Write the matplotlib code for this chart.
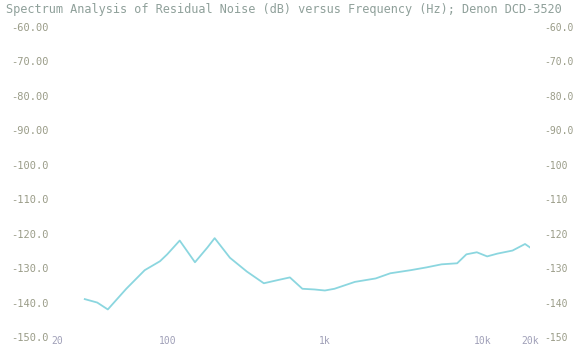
import matplotlib.pyplot as plt
from matplotlib.ticker import FixedLocator, NullLocator

# Residual noise spectrum
freq = [30, 36, 42, 55, 72, 90, 100, 120, 150, 180, 200, 250, 320, 410, 500,
        600, 720, 860, 1000, 1150, 1550, 2100, 2600, 3500, 4400, 5500, 6900,
        7900, 9200, 10700, 12400, 15500, 18600, 20000]
noise_db = [-139, -140, -142, -136, -130.6, -128, -126, -122, -128.3, -124,
            -121.3, -127, -131, -134.4, -133.5, -132.7, -136, -136.2, -136.5,
            -136, -134, -133, -131.5, -130.6, -129.8, -128.9, -128.6, -126,
            -125.4, -126.6, -125.8, -124.9, -123, -124]

y_ticks = [-60, -70, -80, -90, -100, -110, -120, -130, -140, -150]
left_labels = ["-60.00", "-70.00", "-80.00", "-90.00", "-100.0", "-110.0",
               "-120.0", "-130.0", "-140.0", "-150.0"]
right_labels = ["-60.0", "-70.0", "-80.0", "-90.0", "-100", "-110", "-120",
                "-130", "-140", "-150"]
x_ticks = [20, 100, 1000, 10000, 20000]
x_labels = ["20", "100", "1k", "10k", "20k"]

txt = "#9a9c88"
mono = "DejaVu Sans Mono"

fig = plt.figure(figsize=(5.79, 3.47), dpi=100)
ax = fig.add_axes([57 / 579, 1 - 337 / 347, (530 - 57) / 579, 310 / 347])

ax.plot(freq, noise_db, color="#7fd2dc", lw=1.3, alpha=0.9)

ax.set_xscale("log")
ax.set_xlim(20, 20000)
ax.set_ylim(-150, -60)
ax.xaxis.set_major_locator(FixedLocator(x_ticks))
ax.xaxis.set_minor_locator(NullLocator())
ax.set_xticklabels(x_labels, family=mono, fontsize=7, color="#a0a0b8")
ax.set_yticks(y_ticks)
ax.set_yticklabels(left_labels, family=mono, fontsize=7.5, color=txt)
ax.tick_params(axis="both", length=0)
ax.tick_params(axis="x", pad=-1)
ax.tick_params(axis="y", pad=6)
for s in ax.spines.values():
    s.set_visible(False)

ax2 = ax.twinx()
ax2.set_ylim(-150, -60)
ax2.set_yticks(y_ticks)
ax2.set_yticklabels(right_labels, family=mono, fontsize=7, color=txt)
ax2.tick_params(axis="y", length=0, pad=10)
for s in ax2.spines.values():
    s.set_visible(False)

fig.text(6 / 579, 1 - 10 / 347,
         "Spectrum Analysis of Residual Noise (dB) versus Frequency (Hz); Denon DCD-3520",
         family=mono, fontsize=8.6, color="#8fa09a", va="center", ha="left")

fig.savefig("out.png", dpi=100)
